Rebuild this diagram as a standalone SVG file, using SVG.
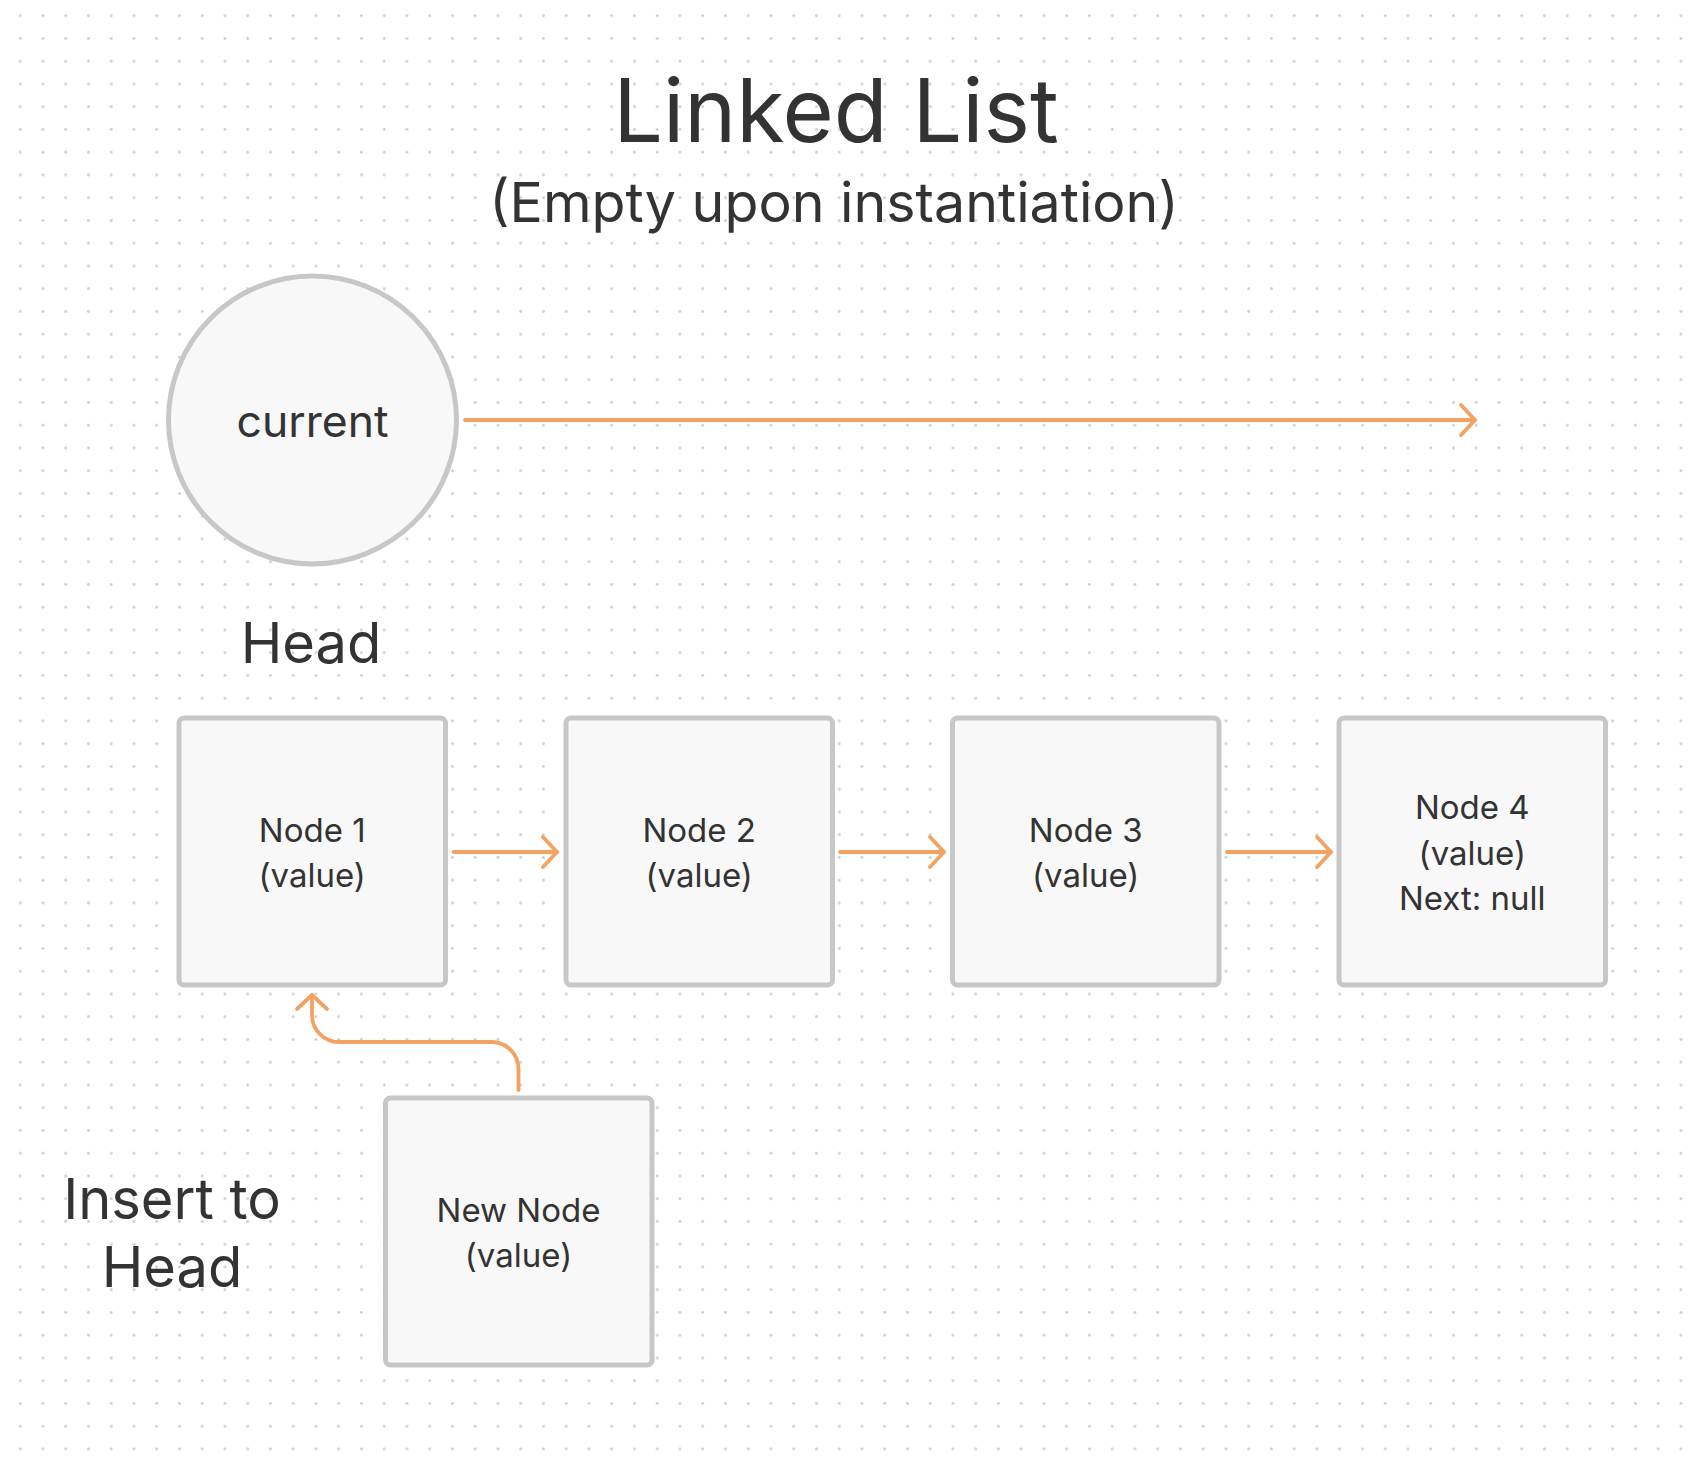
<svg xmlns="http://www.w3.org/2000/svg" width="1690" height="1460" viewBox="0 0 1690 1460">
<defs>
<pattern id="dots" x="8.825" y="4.375" width="22.75" height="22.75" patternUnits="userSpaceOnUse">
<circle cx="11.375" cy="11.375" r="1.4" fill="#cccccc"/>
</pattern>
<marker id="arr" markerUnits="userSpaceOnUse" markerWidth="40" markerHeight="40" viewBox="-20 -20 40 40" refX="0" refY="0" orient="auto" overflow="visible">
<path d="M-14,-15 L0,0 L-14,15" fill="none" stroke="#F3A262" stroke-width="3.8" stroke-linecap="round" stroke-linejoin="round"/>
</marker>
<style>
.t{font-family:Inter,"Noto Sans","Liberation Sans",sans-serif;fill:#333333;text-anchor:middle}
.box{fill:#f8f8f8;stroke:#c7c7c7;stroke-width:5}
.c{fill:none;stroke:#F3A262;stroke-width:3.8;stroke-linecap:round;stroke-linejoin:round;marker-end:url(#arr)}
.nt{font-size:33px}
</style>
</defs>
<rect width="1690" height="1460" fill="#ffffff"/>
<rect width="1690" height="1460" fill="url(#dots)"/>

<g id="title">
<text class="t" x="836" y="142" font-size="88">Linked List</text>
<text class="t" x="834" y="222" font-size="55.5">(Empty upon instantiation)</text>
</g>

<g id="current">
<circle cx="312.5" cy="420" r="144" fill="#f8f8f8" stroke="#c7c7c7" stroke-width="5"/>
<text class="t" x="312.5" y="437" font-size="44.5">current</text>
</g>

<g id="head-label">
<text class="t" x="311" y="663" font-size="56">Head</text>
</g>

<g id="node1">
<rect class="box" x="179" y="718" width="266.5" height="267" rx="5"/>
<text class="t nt" x="312.2" y="842">Node 1</text>
<text class="t nt" x="312.2" y="887">(value)</text>
</g>
<g id="node2">
<rect class="box" x="566" y="718" width="266.5" height="267" rx="5"/>
<text class="t nt" x="699.2" y="842">Node 2</text>
<text class="t nt" x="699.2" y="887">(value)</text>
</g>
<g id="node3">
<rect class="box" x="952.5" y="718" width="266.5" height="267" rx="5"/>
<text class="t nt" x="1085.7" y="842">Node 3</text>
<text class="t nt" x="1085.7" y="887">(value)</text>
</g>
<g id="node4">
<rect class="box" x="1339" y="718" width="266.5" height="267" rx="5"/>
<text class="t nt" x="1472.3" y="819">Node 4</text>
<text class="t nt" x="1472.3" y="865">(value)</text>
<text class="t nt" x="1472.3" y="910">Next: null</text>
</g>

<g id="new-node">
<rect class="box" x="385.5" y="1098" width="266.5" height="267" rx="5"/>
<text class="t nt" x="518.5" y="1222">New Node</text>
<text class="t nt" x="518.5" y="1267">(value)</text>
</g>

<g id="insert-label">
<text class="t" x="172" y="1219" font-size="56">Insert to</text>
<text class="t" x="172" y="1287" font-size="56">Head</text>
</g>

<g id="connectors">
<path class="c" d="M465,420 L1475,420"/>
<path class="c" d="M453.5,852 L557,852"/>
<path class="c" d="M840,852 L944,852"/>
<path class="c" d="M1227,852 L1331,852"/>
<path class="c" d="M518.5,1090 L518.5,1069 A27,27 0 0 0 491.5,1042 L339,1042 A27,27 0 0 1 312,1015 L312,995"/>
</g>
</svg>
